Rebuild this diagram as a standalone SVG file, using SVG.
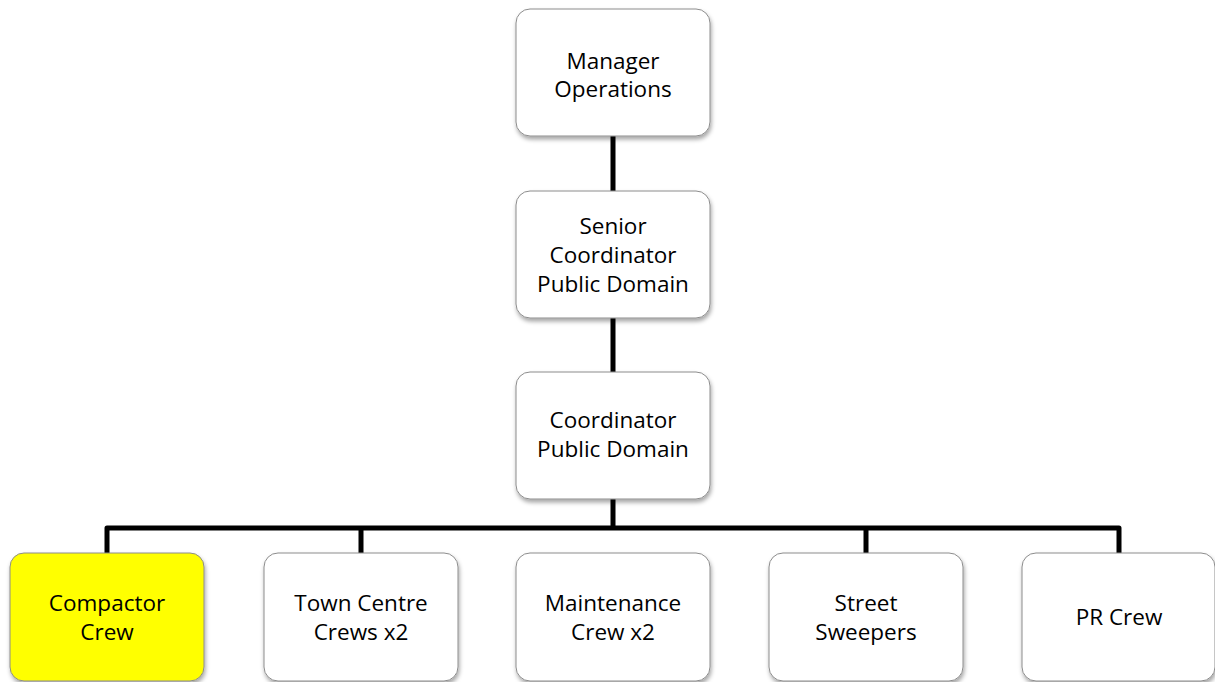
<svg xmlns="http://www.w3.org/2000/svg" width="1215" height="682" viewBox="0 0 1215 682">
<defs>
<filter id="sh" x="-10%" y="-10%" width="125%" height="125%">
<feDropShadow dx="1" dy="3" stdDeviation="2" flood-color="#000" flood-opacity="0.35"/>
</filter>
</defs>
<style>
.box{fill:#fff;stroke:#8c8c8c;stroke-width:1;filter:url(#sh)}
.hl{fill:#ffff00}
text{font-family:"Open Sans","Liberation Sans",sans-serif;font-size:22.5px;fill:#000;text-anchor:middle}
.c{fill:none;stroke:#000;stroke-width:5;stroke-linejoin:round}
</style>
<rect width="1215" height="682" fill="#fff"/>
<g id="connectors">
<path class="c" d="M613 136V192M613 318V373M613 499V528M107 553V528H1119V553M361 528V553M866 528V553"/>
</g>
<g id="manager"><rect class="box" x="516" y="9" width="194" height="127" rx="14"/><text x="613" y="69">Manager</text><text x="613" y="97">Operations</text></g>
<g id="senior"><rect class="box" x="516" y="191" width="194" height="127" rx="14"/><text x="613" y="234">Senior</text><text x="613" y="263">Coordinator</text><text x="613" y="292">Public Domain</text></g>
<g id="coordinator"><rect class="box" x="516" y="372" width="194" height="127" rx="14"/><text x="613" y="428">Coordinator</text><text x="613" y="457">Public Domain</text></g>
<g id="compactor"><rect class="box hl" x="10" y="553" width="194" height="128" rx="14"/><text x="107" y="611">Compactor</text><text x="107" y="640">Crew</text></g>
<g id="towncentre"><rect class="box" x="264" y="553" width="194" height="128" rx="14"/><text x="361" y="611">Town Centre</text><text x="361" y="640">Crews x2</text></g>
<g id="maintenance"><rect class="box" x="516" y="553" width="194" height="128" rx="14"/><text x="613" y="611">Maintenance</text><text x="613" y="640">Crew x2</text></g>
<g id="sweepers"><rect class="box" x="769" y="553" width="194" height="128" rx="14"/><text x="866" y="611">Street</text><text x="866" y="640">Sweepers</text></g>
<g id="prcrew"><rect class="box" x="1022" y="553" width="193" height="128" rx="14"/><text x="1119" y="625">PR Crew</text></g>
</svg>
